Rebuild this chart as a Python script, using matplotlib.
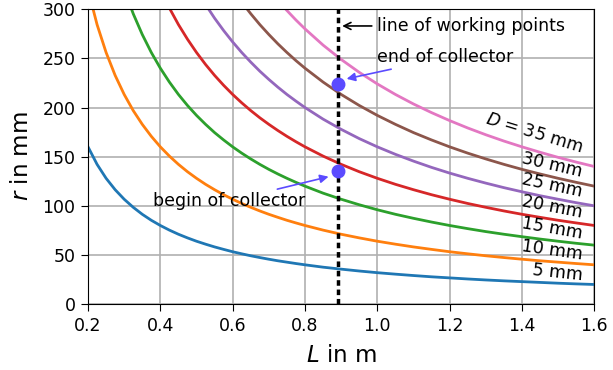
import matplotlib
matplotlib.use("Agg")
import matplotlib.pyplot as plt

# diameter of each curve (mm) and the label shown for it
D_mm = [5, 10, 15, 20, 25, 30, 35]
labels = ["5 mm", "10 mm", "15 mm", "20 mm", "25 mm", "30 mm", "$D$ = 35 mm"]
label_r = [29.5, 50, 72, 92.5, 114, 134, 158.6]   # where the labels sit at the right edge
label_rot = [-6, -8, -10, -11, -12, -13, -17]

L = [0.2, 0.225, 0.25, 0.275, 0.3, 0.325, 0.35, 0.375, 0.4, 0.425, 0.45,
     0.475, 0.5, 0.525, 0.55, 0.575, 0.6, 0.625, 0.65, 0.675, 0.7, 0.725,
     0.75, 0.775, 0.8, 0.85, 0.9, 0.95, 1.0, 1.05, 1.1, 1.15, 1.2, 1.25,
     1.3, 1.35, 1.4, 1.45, 1.5, 1.55, 1.6]

# r in mm for each D
r_5 = [160, 142.2, 128, 116.4, 106.7, 98.5, 91.4, 85.3, 80, 75.3, 71.1,
       67.4, 64, 61.0, 58.2, 55.7, 53.3, 51.2, 49.2, 47.4, 45.7, 44.1,
       42.7, 41.3, 40, 37.6, 35.6, 33.7, 32, 30.5, 29.1, 27.8, 26.7, 25.6,
       24.6, 23.7, 22.9, 22.1, 21.3, 20.6, 20]
r_10 = [320, 284.4, 256, 232.7, 213.3, 196.9, 182.9, 170.7, 160, 150.6, 142.2,
        134.7, 128, 121.9, 116.4, 111.3, 106.7, 102.4, 98.5, 94.8, 91.4, 88.3,
        85.3, 82.6, 80, 75.3, 71.1, 67.4, 64, 61.0, 58.2, 55.7, 53.3, 51.2,
        49.2, 47.4, 45.7, 44.1, 42.7, 41.3, 40]
r_15 = [480, 426.7, 384, 349.1, 320, 295.4, 274.3, 256, 240, 225.9, 213.3,
        202.1, 192, 182.9, 174.5, 167.0, 160, 153.6, 147.7, 142.2, 137.1, 132.4,
        128, 123.9, 120, 112.9, 106.7, 101.1, 96, 91.4, 87.3, 83.5, 80, 76.8,
        73.8, 71.1, 68.6, 66.2, 64, 61.9, 60]
r_20 = [640, 568.9, 512, 465.5, 426.7, 393.8, 365.7, 341.3, 320, 301.2, 284.4,
        269.5, 256, 243.8, 232.7, 222.6, 213.3, 204.8, 196.9, 189.6, 182.9, 176.6,
        170.7, 165.2, 160, 150.6, 142.2, 134.7, 128, 121.9, 116.4, 111.3, 106.7, 102.4,
        98.5, 94.8, 91.4, 88.3, 85.3, 82.6, 80]
r_25 = [800, 711.1, 640, 581.8, 533.3, 492.3, 457.1, 426.7, 400, 376.5, 355.6,
        336.8, 320, 304.8, 290.9, 278.3, 266.7, 256, 246.2, 237.0, 228.6, 220.7,
        213.3, 206.5, 200, 188.2, 177.8, 168.4, 160, 152.4, 145.5, 139.1, 133.3, 128,
        123.1, 118.5, 114.3, 110.3, 106.7, 103.2, 100]
r_30 = [960, 853.3, 768, 698.2, 640, 590.8, 548.6, 512, 480, 451.8, 426.7,
        404.2, 384, 365.7, 349.1, 333.9, 320, 307.2, 295.4, 284.4, 274.3, 264.8,
        256, 247.7, 240, 225.9, 213.3, 202.1, 192, 182.9, 174.5, 167.0, 160, 153.6,
        147.7, 142.2, 137.1, 132.4, 128, 123.9, 120]
r_35 = [1120, 995.6, 896, 814.5, 746.7, 689.2, 640, 597.3, 560, 527.1, 497.8,
        471.6, 448, 426.7, 407.3, 389.6, 373.3, 358.4, 344.6, 331.9, 320, 309.0,
        298.7, 289.0, 280, 263.5, 248.9, 235.8, 224, 213.3, 203.6, 194.8, 186.7, 179.2,
        172.3, 165.9, 160, 154.5, 149.3, 144.5, 140]
curves = [r_5, r_10, r_15, r_20, r_25, r_30, r_35]

# working point line and the two collector points
L_work = 0.89
r_begin = 135
r_end = 224

dot_col = "#5b4bff"

fig = plt.figure(figsize=(6.13, 3.70), dpi=100)
ax = fig.add_axes([0.1436, 0.178, 0.826, 0.797])

for r, lab, ly, rot in zip(curves, labels, label_r, label_rot):
    ax.plot(L, r, lw=2)
    ax.text(1.567, ly, lab, ha="right", va="center", rotation=rot,
            rotation_mode="anchor", fontsize=12.5)

ax.axvline(L_work, color="black", ls=(0, (1.6, 1.1)), lw=2.5)
ax.plot([L_work, L_work], [r_begin, r_end], "o", color=dot_col, ms=9, zorder=5)

ax.annotate("line of working points", xy=(L_work + 0.005, 283), xytext=(1.0, 283),
            va="center", fontsize=12.5,
            arrowprops=dict(arrowstyle="->", color="black", lw=1.2))
ax.annotate("end of collector", xy=(L_work + 0.01, r_end + 4), xytext=(1.0, 251),
            va="center", fontsize=12.5,
            arrowprops=dict(arrowstyle="-|>", color=dot_col, lw=1.2,
                            shrinkA=0, shrinkB=4))
ax.annotate("begin of collector", xy=(L_work - 0.01, r_begin - 4), xytext=(0.8, 105),
            va="center", ha="right", fontsize=12.5,
            arrowprops=dict(arrowstyle="-|>", color=dot_col, lw=1.2,
                            shrinkA=0, shrinkB=4))

ax.set_xlim(0.2, 1.6)
ax.set_ylim(0, 300)
ax.grid(True, color="#b0b0b0", lw=1.2)
ax.tick_params(labelsize=12.5, length=5, pad=4)
ax.set_xlabel("$L$ in m", fontsize=16.5, labelpad=7)
ax.set_ylabel("$r$ in mm", fontsize=16.5, labelpad=7)

fig.savefig("out.png")
